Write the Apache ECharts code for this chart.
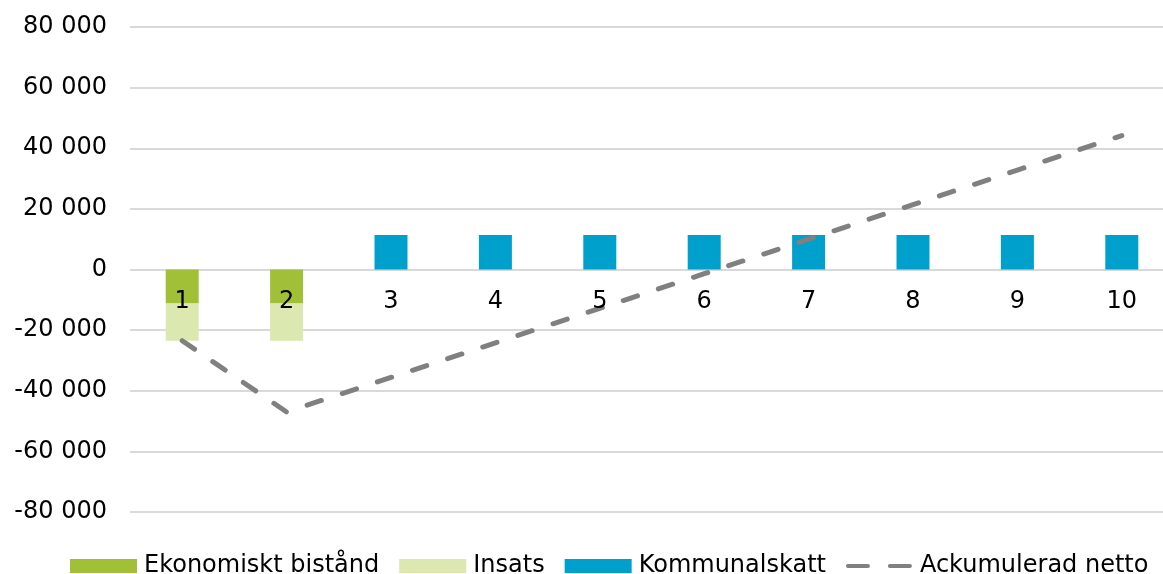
<!DOCTYPE html>
<html>
<head>
<meta charset="utf-8">
<script src="https://cdn.jsdelivr.net/npm/echarts@6/dist/echarts.min.js"></script>
<style>
html,body{margin:0;padding:0;background:#fff;}
#chart{width:1163px;height:574px;}
</style>
</head>
<body>
<div id="chart"></div>
<script>
const categories = ['1','2','3','4','5','6','7','8','9','10'];
const ekonomisktBistand = [-11200, -11200, null, null, null, null, null, null, null, null];
const insats = [-12300, -12300, null, null, null, null, null, null, null, null];
const kommunalskatt = [null, null, 11400, 11400, 11400, 11400, 11400, 11400, 11400, 11400];
const ackumuleradNetto = [-23500, -47000, -35600, -24200, -12800, -1400, 10000, 21400, 32800, 44200];
const seriesNames = ['Ekonomiskt bistånd', 'Insats', 'Kommunalskatt', 'Ackumulerad netto'];

const font = 'DejaVu Sans, Verdana, sans-serif';
const chart = echarts.init(document.getElementById('chart'), null, {renderer: 'canvas'});

function fmt(v) {
  const s = Math.abs(v).toString().replace(/\B(?=(\d{3})+(?!\d))/g, ' ');
  return (v < 0 ? '-' : '') + s;
}

const dashIcon = 'path://M0,0h0.01v0.01h-0.01z M67,14h0.01v0.01h-0.01z ' +
  'M2,5h20a2,2 0 0 1 0,4h-20a2,2 0 0 1 0,-4z M44,5h20a2,2 0 0 1 0,4h-20a2,2 0 0 1 0,-4z';

chart.setOption({
  animation: false,
  backgroundColor: '#ffffff',
  grid: {left: 130, top: 27, width: 1044, height: 485, containLabel: false, outerBoundsMode: 'none'},
  legend: {
    data: [
      {name: seriesNames[0], icon: 'rect'},
      {name: seriesNames[1], icon: 'rect'},
      {name: seriesNames[2], icon: 'rect'},
      {name: seriesNames[3], icon: dashIcon}
    ],
    top: 549,
    left: 65,
    itemWidth: 67,
    itemHeight: 14,
    itemGap: 20,
    textStyle: {fontFamily: font, fontSize: 24, color: '#000', padding: [0, 0, 0, 2]}
  },
  xAxis: {
    type: 'category',
    data: categories,
    z: 10,
    position: 'bottom',
    offset: -242.5,
    axisLine: {show: false, onZero: false},
    axisTick: {show: false},
    axisLabel: {fontFamily: font, fontSize: 24, color: '#000', margin: 20}
  },
  yAxis: {
    type: 'value',
    min: -80000,
    max: 80000,
    interval: 20000,
    axisLine: {show: false},
    axisTick: {show: false},
    splitLine: {lineStyle: {color: '#d9d9d9', width: 2}},
    axisLabel: {fontFamily: font, fontSize: 24, color: '#000', margin: 23, formatter: fmt}
  },
  series: [
    {name: seriesNames[0], type: 'bar', stack: 's', data: ekonomisktBistand, barWidth: 33, itemStyle: {color: '#a1c038'}},
    {name: seriesNames[1], type: 'bar', stack: 's', data: insats, barWidth: 33, itemStyle: {color: '#dbe8af'}},
    {name: seriesNames[2], type: 'bar', stack: 's', data: kommunalskatt, barWidth: 33, itemStyle: {color: '#00a0cc'}},
    {name: seriesNames[3], type: 'line', data: ackumuleradNetto, symbol: 'none', z: 5,
      itemStyle: {color: '#808080'},
      lineStyle: {color: '#808080', width: 5, type: [15, 22], cap: 'round'}}
  ]
});
</script>
</body>
</html>
